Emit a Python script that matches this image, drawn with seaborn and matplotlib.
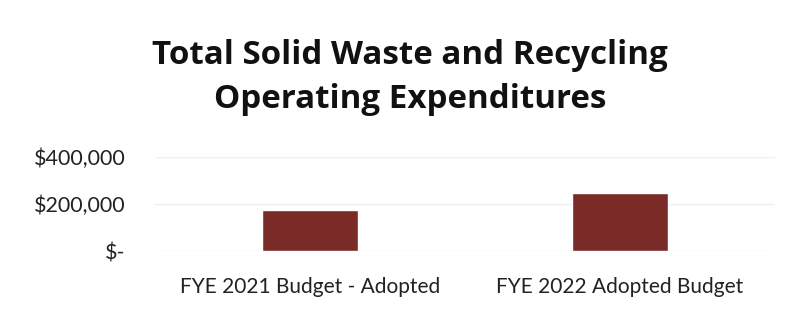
import matplotlib
matplotlib.use("Agg")
from matplotlib import pyplot as plt
from matplotlib.ticker import FuncFormatter
import seaborn as sns
import pandas as pd

# chart data
categories = ["FYE 2021 Budget - Adopted", "FYE 2022 Adopted Budget"]
expenditures = [173000, 245000]
y_ticks = [0, 200000, 400000]

sns.set_theme(style="white")
plt.rcParams['font.family'] = ['Lato', 'DejaVu Sans']

df = pd.DataFrame({"category": categories, "amount": expenditures})

fig = plt.figure(figsize=(8.01, 3.12), dpi=100)
ax = fig.add_axes([0.1935, 0.1955, 0.774, 0.302])

sns.barplot(data=df, x="category", y="amount", color="#7a2b27",
            saturation=1, width=0.31, ax=ax)

ax.set_ylim(0, 400000)
ax.set_yticks(y_ticks)
ax.yaxis.set_major_formatter(FuncFormatter(lambda v, p: "$-" if v == 0 else f"${v:,.0f}"))
ax.grid(axis="y", color="#efefef", linewidth=1)
ax.set_axisbelow(True)
for s in ax.spines.values():
    s.set_visible(False)
ax.set_xlabel("")
ax.set_ylabel("")
ax.tick_params(axis="both", length=0, labelsize=15, colors="#222222")
ax.tick_params(axis="x", pad=19)
ax.tick_params(axis="y", labelsize=15.5, pad=21)

fig.text(0.512, 0.752, "Total Solid Waste and Recycling\nOperating Expenditures",
         ha="center", va="center", fontsize=23.9, fontweight="bold",
         family=["Open Sans", "DejaVu Sans"], color="#111111", linespacing=1.42)

fig.savefig("out.png", dpi=100, facecolor="white")
